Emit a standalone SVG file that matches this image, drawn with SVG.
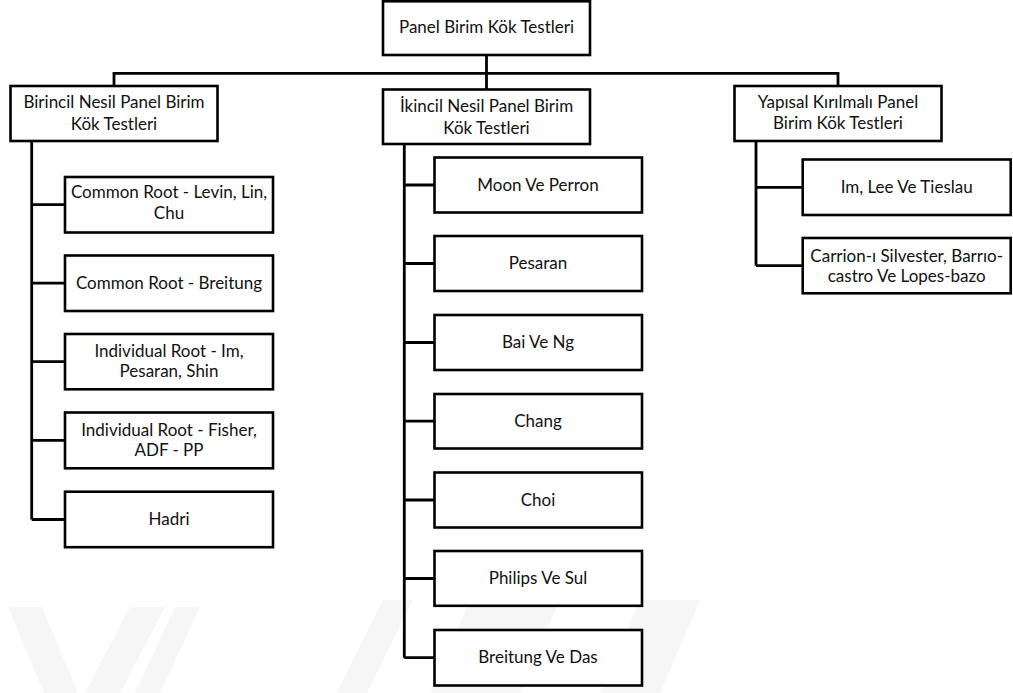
<svg xmlns="http://www.w3.org/2000/svg" width="1013" height="693" viewBox="0 0 1013 693">
<style>
.box{fill:#fff;stroke:#000;stroke-width:2.6}
.t{font-family:Lato,"Open Sans","Liberation Sans",sans-serif;font-size:17px;fill:#111;text-anchor:middle}
.c{fill:none;stroke:#000;stroke-width:2.8}
.wm{fill:#f6f6f6}
</style>
<rect width="1013" height="693" fill="#fff"/>
<g id="watermark">
<polygon class="wm" points="8,607 42,607 78,693 44,693"/>
<polygon class="wm" points="130,607 165,607 120,693 85,693"/>
<polygon class="wm" points="175,607 200,607 160,693 135,693"/>
<polygon class="wm" points="383,600 413,600 367,693 337,693"/>
<polygon class="wm" points="470,600 560,600 520,693 430,693"/>
<polygon class="wm" points="640,600 700,600 660,693 600,693"/>
</g>
<g id="connectors">
<path class="c" d="M486.5,55 V89.5"/>
<path class="c" d="M114,86 V73.3 H838 V86"/>
<path class="c" d="M31.7,141 V519.5 M31.7,204.7 H65 M31.7,283.2 H65 M31.7,361.6 H65 M31.7,440.3 H65 M31.7,519.5 H65"/>
<path class="c" d="M404.3,144 V657.7 M404.3,185 H434.5 M404.3,263.5 H434.5 M404.3,342.5 H434.5 M404.3,421.2 H434.5 M404.3,500 H434.5 M404.3,578.5 H434.5 M404.3,657.7 H434.5"/>
<path class="c" d="M756,141 V265.7 M756,187.3 H802.7 M756,265.7 H802.7"/>
</g>
<g id="root"><rect class="box" x="383" y="1.3" width="207" height="53.7"/><text class="t" x="486.5" y="33">Panel Birim Kök Testleri</text></g>
<g id="birincil"><rect class="box" x="10.5" y="86" width="207" height="55"/><text class="t" x="114" y="108">Birincil Nesil Panel Birim</text><text class="t" x="114" y="129.5">Kök Testleri</text></g>
<g id="ikincil"><rect class="box" x="383" y="89.5" width="207" height="54.5"/><text class="t" x="486.5" y="112">İkincil Nesil Panel Birim</text><text class="t" x="486.5" y="133.5">Kök Testleri</text></g>
<g id="yapisal"><rect class="box" x="734.5" y="86" width="207" height="55"/><text class="t" x="838" y="107.5">Yapısal Kırılmalı Panel</text><text class="t" x="838" y="128.5">Birim Kök Testleri</text></g>
<g id="b1"><rect class="box" x="65" y="177" width="208" height="55.5"/><text class="t" x="169" y="198.3">Common Root - Levin, Lin,</text><text class="t" x="169" y="219.3">Chu</text></g>
<g id="b2"><rect class="box" x="65" y="255.5" width="208" height="55.5"/><text class="t" x="169" y="289">Common Root - Breitung</text></g>
<g id="b3"><rect class="box" x="65" y="334" width="208" height="55.3"/><text class="t" x="169" y="356.7">Individual Root - Im,</text><text class="t" x="169" y="377.3">Pesaran, Shin</text></g>
<g id="b4"><rect class="box" x="65" y="412.5" width="208" height="55.8"/><text class="t" x="169" y="435.7">Individual Root - Fisher,</text><text class="t" x="169" y="455.7">ADF - PP</text></g>
<g id="b5"><rect class="box" x="65" y="491.7" width="208" height="55.5"/><text class="t" x="169" y="525">Hadri</text></g>
<g id="i1"><rect class="box" x="434.5" y="157.5" width="207.5" height="55"/><text class="t" x="538" y="190.5">Moon Ve Perron</text></g>
<g id="i2"><rect class="box" x="434.5" y="236" width="207.5" height="55"/><text class="t" x="538" y="269">Pesaran</text></g>
<g id="i3"><rect class="box" x="434.5" y="315" width="207.5" height="55"/><text class="t" x="538" y="348">Bai Ve Ng</text></g>
<g id="i4"><rect class="box" x="434.5" y="394" width="207.5" height="54.5"/><text class="t" x="538" y="426.7">Chang</text></g>
<g id="i5"><rect class="box" x="434.5" y="472.5" width="207.5" height="55"/><text class="t" x="538" y="505.5">Choi</text></g>
<g id="i6"><rect class="box" x="434.5" y="551" width="207.5" height="54.8"/><text class="t" x="538" y="584">Philips Ve Sul</text></g>
<g id="i7"><rect class="box" x="434.5" y="630" width="207.5" height="55.5"/><text class="t" x="538" y="663.2">Breitung Ve Das</text></g>
<g id="y1"><rect class="box" x="802.7" y="159.5" width="208" height="55.5"/><text class="t" x="906.7" y="192.8">Im, Lee Ve Tieslau</text></g>
<g id="y2"><rect class="box" x="802.7" y="238" width="208" height="55.3"/><text class="t" x="906.7" y="261.5">Carrion-ı Silvester, Barrıo-</text><text class="t" x="906.7" y="282">castro Ve Lopes-bazo</text></g>
</svg>
